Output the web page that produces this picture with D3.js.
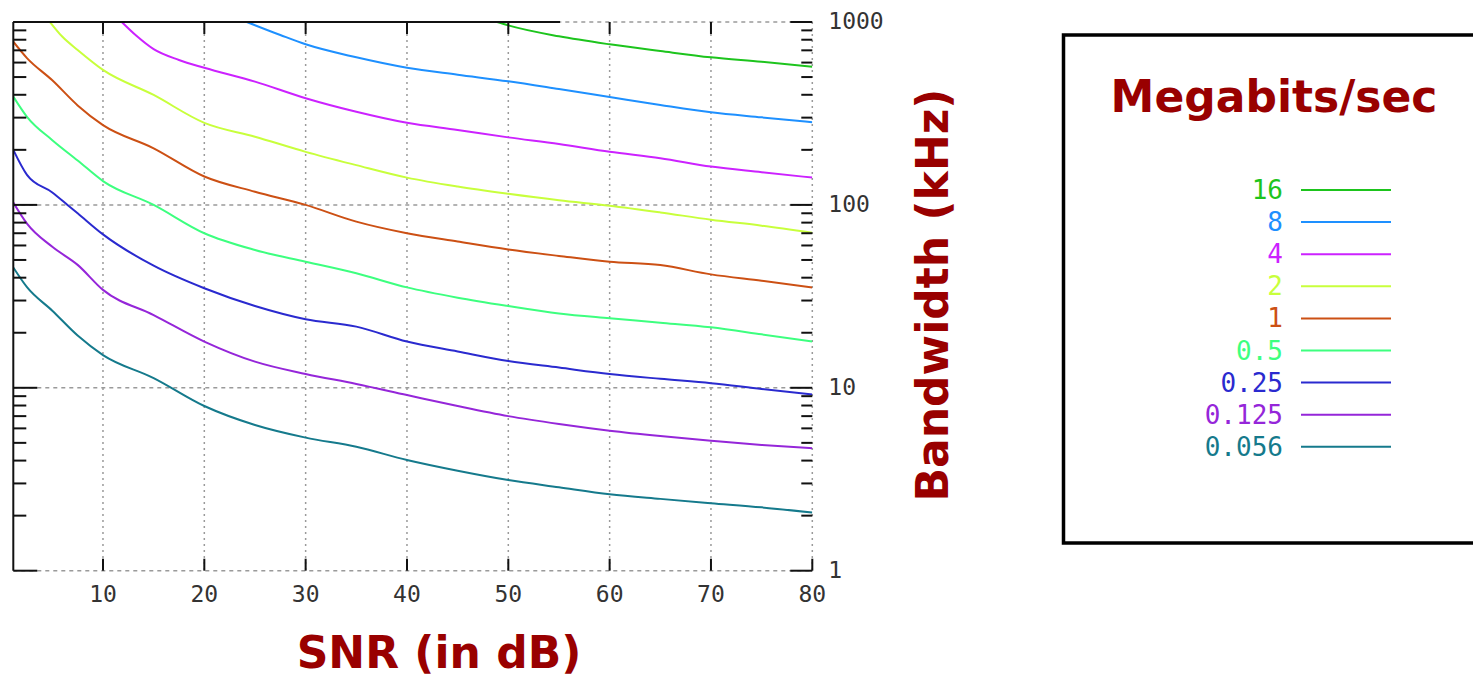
<!DOCTYPE html>
<html>
<head>
<meta charset="utf-8">
<script src="https://cdn.jsdelivr.net/npm/d3@7"></script>
<style>
  body { margin: 0; background: #fff; }
  svg { display: block; }
  .tick-label { font-family: "DejaVu Sans Mono", monospace; font-size: 23px; fill: #333; }
  .legend-label { font-family: "DejaVu Sans Mono", monospace; font-size: 26px; }
  .title { font-family: "DejaVu Sans", Verdana, sans-serif; font-weight: bold; fill: #990000; font-size: 44px; }
</style>
</head>
<body>
<div id="chart"></div>
<script>
// data: [SNR dB, bandwidth kHz]
var rates = ["16", "8", "4", "2", "1", "0.5", "0.25", "0.125", "0.056"]
var colors = ["#1dc41d", "#1e90ff", "#cc22ff", "#c8ff3c", "#cc5014", "#3dff7f", "#2a2acf", "#9526d9", "#157a8c"]

var bw16 = [[48.9, 1000], [50, 958], [55, 835], [60, 755], [65, 694], [70, 641], [75, 606], [80, 569]]
var bw8 = [[24.2, 1000], [27.5, 849], [30, 755], [35, 641], [40, 562], [45, 515], [50, 474], [55, 430], [60, 389], [65, 352], [70, 321], [75, 301], [80, 283]]
var bw4 = [[11.85, 1000], [13.3, 840], [15, 710], [17.5, 620], [20, 562], [25, 472], [30, 383], [35, 323], [40, 281], [45, 257], [50, 234], [55, 215], [60, 195], [65, 180], [70, 162], [75, 151], [80, 141]]
var bw2 = [[4.77, 1000], [6, 830], [7.5, 703], [10, 547], [15, 399], [20, 281], [25, 236], [30, 195], [35, 165], [40, 141], [45, 126], [50, 115], [55, 106], [60, 99], [65, 91], [70, 83], [75, 77], [80, 70.5]]
var bw1 = [[1.15, 780], [2.5, 635], [5, 480], [7.5, 350], [10, 273], [15, 204], [20, 143], [25, 118], [30, 100], [35, 81], [40, 70], [45, 63], [50, 57], [55, 52.6], [60, 48.9], [65, 46.9], [70, 41.7], [75, 38.5], [80, 35.4]]
var bw05 = [[1.15, 391], [2.5, 303], [5, 226], [7.5, 175], [10, 135], [15, 100], [20, 70], [25, 56.7], [30, 48.9], [35, 42.3], [40, 35.4], [45, 31.1], [50, 28], [55, 25.5], [60, 24], [65, 22.7], [70, 21.4], [75, 19.6], [80, 17.9]]
var bw025 = [[1.15, 200], [2.5, 146], [5, 117], [6.5, 100], [7.5, 90], [10, 69], [15, 46.5], [20, 35], [25, 28], [30, 23.7], [35, 21.6], [40, 17.9], [45, 15.8], [50, 14], [55, 12.9], [60, 11.9], [65, 11.2], [70, 10.6], [75, 9.85], [80, 9.2]]
var bw0125 = [[1.15, 103], [2.5, 79], [5, 59], [7.5, 47], [10, 34.3], [15, 25], [20, 17.9], [25, 13.9], [30, 11.9], [35, 10.5], [40, 9.13], [45, 7.95], [50, 7.0], [55, 6.34], [60, 5.83], [65, 5.45], [70, 5.14], [75, 4.87], [80, 4.67]]
var bw0056 = [[1.15, 45.5], [2.5, 35.5], [5, 26.4], [7.5, 19.3], [10, 15.1], [15, 11.3], [20, 7.95], [25, 6.26], [30, 5.34], [35, 4.76], [40, 4.03], [45, 3.52], [50, 3.13], [55, 2.86], [60, 2.62], [65, 2.47], [70, 2.34], [75, 2.22], [80, 2.08]]

var xTicks = [10, 20, 30, 40, 50, 60, 70, 80]
var yTicks = [1, 10, 100, 1000]

var series = [bw16, bw8, bw4, bw2, bw1, bw05, bw025, bw0125, bw0056]

function drawChart() {
  var W = 1473, H = 677
  var pLeft = 13.3, pRight = 812.3, pTop = 22, pBottom = 570.7

  var svg = d3.select("#chart").append("svg")
      .attr("width", W)
      .attr("height", H)

  var x = d3.scaleLinear().domain([1.15, 80]).range([pLeft, pRight])
  var y = d3.scaleLog().domain([1, 1000]).range([pBottom, pTop])

  // grid
  var grid = svg.append("g").attr("stroke", "#9a9a9a").attr("stroke-width", 1.5)
  grid.selectAll("line.vg")
      .data(xTicks)
    .enter().append("line")
      .attr("x1", d => x(d)).attr("x2", d => x(d))
      .attr("y1", pTop).attr("y2", pBottom)
      .attr("stroke-dasharray", "2,4")
  grid.selectAll("line.hg")
      .data(yTicks)
    .enter().append("line")
      .attr("x1", pLeft).attr("x2", pRight)
      .attr("y1", d => y(d)).attr("y2", d => y(d))
      .attr("stroke-dasharray", "4,4")

  // curves
  svg.append("clipPath").attr("id", "plotClip")
    .append("rect")
      .attr("x", pLeft).attr("y", pTop - 1)
      .attr("width", pRight - pLeft).attr("height", pBottom - pTop + 1)

  var line = d3.line()
      .x(d => x(d[0]))
      .y(d => y(d[1]))
      .curve(d3.curveMonotoneX)

  svg.append("g")
      .attr("clip-path", "url(#plotClip)")
    .selectAll("path")
      .data(series)
    .enter().append("path")
      .attr("d", line)
      .attr("fill", "none")
      .attr("stroke", (d, i) => colors[i])
      .attr("stroke-width", 2)

  // frame and ticks
  var frame = svg.append("g").attr("stroke", "#111").attr("stroke-width", 2)
  frame.append("line")
      .attr("x1", pLeft).attr("x2", pLeft).attr("y1", pTop).attr("y2", pBottom)
  frame.append("line")
      .attr("x1", pLeft).attr("x2", 560).attr("y1", pTop).attr("y2", pTop)

  var minor = []
  yTicks.slice(0, 3).forEach(function(d) {
    for (var k = 2; k <= 9; k++) minor.push(d * k)
  })

  frame.selectAll("line.ymajL")
      .data(yTicks)
    .enter().append("line")
      .attr("x1", pLeft).attr("x2", pLeft + 24)
      .attr("y1", d => y(d)).attr("y2", d => y(d))
  frame.selectAll("line.yminL")
      .data(minor)
    .enter().append("line")
      .attr("x1", pLeft).attr("x2", pLeft + 13)
      .attr("y1", d => y(d)).attr("y2", d => y(d))
  frame.selectAll("line.ymajR")
      .data(yTicks)
    .enter().append("line")
      .attr("x1", pRight - 22).attr("x2", pRight)
      .attr("y1", d => y(d)).attr("y2", d => y(d))
  frame.selectAll("line.yminR")
      .data(minor)
    .enter().append("line")
      .attr("x1", pRight - 11).attr("x2", pRight)
      .attr("y1", d => y(d)).attr("y2", d => y(d))
  frame.selectAll("line.xtB")
      .data(xTicks)
    .enter().append("line")
      .attr("x1", d => x(d)).attr("x2", d => x(d))
      .attr("y1", pBottom - 12).attr("y2", pBottom)
  frame.selectAll("line.xtT")
      .data(xTicks.slice(0, 7))
    .enter().append("line")
      .attr("x1", d => x(d)).attr("x2", d => x(d))
      .attr("y1", pTop).attr("y2", pTop + 12)

  // tick labels
  svg.selectAll("text.xl")
      .data(xTicks)
    .enter().append("text")
      .attr("class", "tick-label")
      .attr("x", d => x(d))
      .attr("y", pBottom + 31)
      .attr("text-anchor", "middle")
      .text(d => d)
  svg.selectAll("text.yl")
      .data(yTicks)
    .enter().append("text")
      .attr("class", "tick-label")
      .attr("x", pRight + 16)
      .attr("y", d => y(d) + 7)
      .text(d => d)

  // axis titles
  svg.append("text")
      .attr("class", "title")
      .attr("x", 439).attr("y", 668)
      .attr("text-anchor", "middle")
      .text("SNR (in dB)")
  svg.append("text")
      .attr("class", "title")
      .attr("transform", "translate(948,295) rotate(-90)")
      .attr("text-anchor", "middle")
      .text("Bandwidth (kHz)")

  // legend
  var legend = svg.append("g")
  legend.append("rect")
      .attr("x", 1063.5).attr("y", 35)
      .attr("width", 600).attr("height", 508)
      .attr("fill", "none")
      .attr("stroke", "#000")
      .attr("stroke-width", 3.5)
  legend.append("text")
      .attr("class", "title")
      .attr("x", 1274).attr("y", 112)
      .attr("text-anchor", "middle")
      .text("Megabits/sec")

  var item = legend.selectAll("g.item")
      .data(rates)
    .enter().append("g")
      .attr("transform", (d, i) => "translate(0," + (190 + i * 32.1) + ")")
  item.append("text")
      .attr("class", "legend-label")
      .attr("x", 1283).attr("y", 9)
      .attr("text-anchor", "end")
      .attr("fill", (d, i) => colors[i])
      .text(d => d)
  item.append("line")
      .attr("x1", 1301).attr("x2", 1391)
      .attr("stroke", (d, i) => colors[i])
      .attr("stroke-width", 2)
}

drawChart()
</script>
</body>
</html>
